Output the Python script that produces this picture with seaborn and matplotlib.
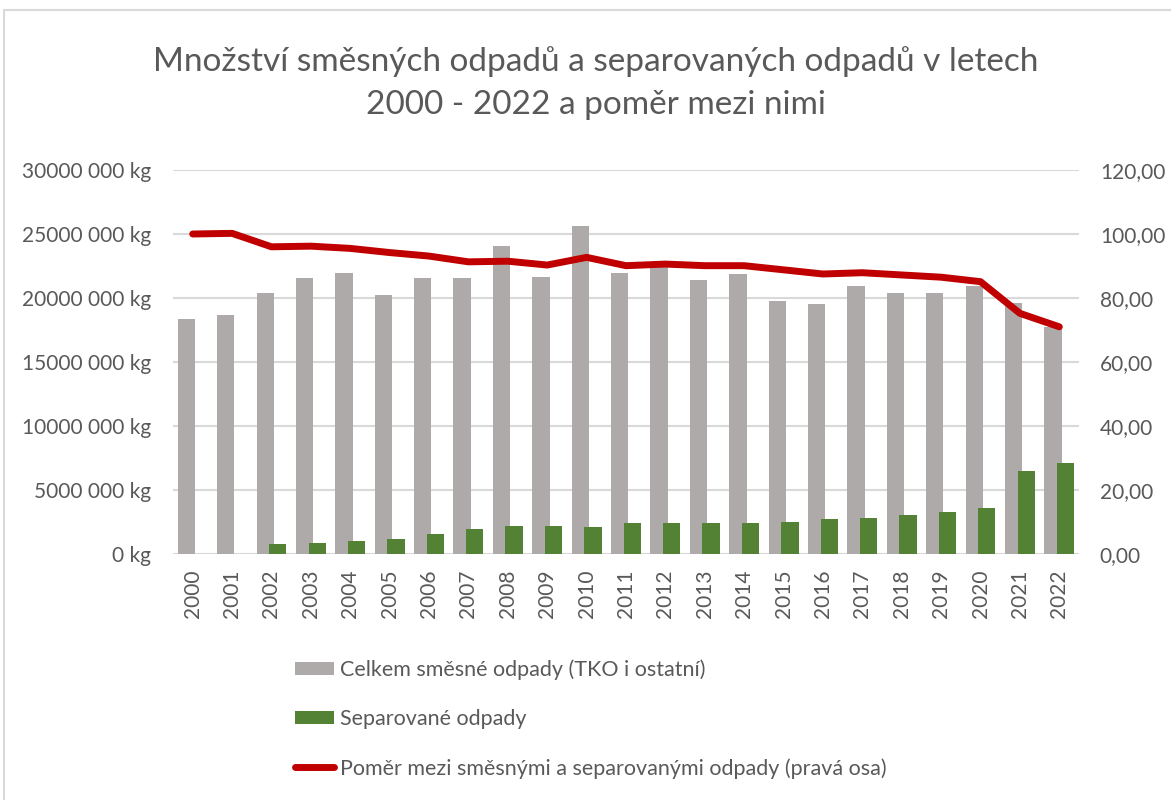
import numpy as np
import pandas as pd
import seaborn as sns
import matplotlib.pyplot as plt
from matplotlib.patches import Patch, Rectangle
from matplotlib.lines import Line2D
from matplotlib.ticker import FuncFormatter, MultipleLocator

# data
years = [str(y) for y in range(2000, 2023)]
smesne = [18.34, 18.67, 20.42, 21.54, 21.98, 20.21, 21.54, 21.54, 24.09, 21.66, 25.65, 21.98,
          22.6, 21.43, 21.88, 19.77, 19.56, 20.96, 20.42, 20.42, 20.96, 19.63, 17.7]
separovane = [0, 0, 0.76, 0.83, 0.99, 1.20, 1.54, 1.95, 2.19, 2.19, 2.08, 2.40,
              2.40, 2.40, 2.40, 2.53, 2.73, 2.84, 3.07, 3.28, 3.62, 6.48, 7.13]
pomer = [100.0, 100.2, 96.0, 96.2, 95.5, 94.2, 93.1, 91.3, 91.5, 90.3, 92.7, 90.1,
         90.6, 90.1, 90.1, 88.8, 87.5, 87.9, 87.2, 86.5, 85.1, 75.2, 71.0]

lab_smes = "Celkem směsné odpady (TKO i ostatní)"
lab_sep = "Separované odpady"
lab_pomer = "Poměr mezi směsnými a separovanými odpady (pravá osa)"

GRAY = "#AEAAAA"
GREEN = "#548235"
RED = "#C00000"
TXT = "#595959"

sns.set_theme(style="white")
plt.rcParams['font.family'] = ['Lato', 'DejaVu Sans']

df = pd.DataFrame({
    "rok": years * 2,
    "kg": [v * 1e6 for v in smesne] + [v * 1e6 for v in separovane],
    "serie": [lab_smes] * len(years) + [lab_sep] * len(years),
})

fig = plt.figure(figsize=(11.71, 8), dpi=100)
ax = fig.add_axes([173 / 1171, 1 - 554 / 800, 906 / 1171, 384 / 800])

sns.barplot(data=df, x="rok", y="kg", hue="serie", palette=[GRAY, GREEN],
            width=0.64, gap=0, dodge=True, ax=ax, legend=False, saturation=1)
# bars overlap slightly, like the original
for p in ax.patches:
    c = p.get_x() + p.get_width() / 2
    p.set_width(0.44)
    p.set_x(c - 0.22)
    p.set_edgecolor("none")

ax.set_xlim(-0.5, len(years) - 0.5)
ax.set_ylim(0, 30e6)
ax.yaxis.set_major_locator(MultipleLocator(5e6))
ax.yaxis.set_major_formatter(FuncFormatter(
    lambda v, _: "0 kg" if v == 0 else f"{int(v // 1000000 * 1000)} 000 kg"))
ax.grid(axis="y", color="#D9D9D9", linewidth=1.5)
ax.set_axisbelow(True)
ax.set_xlabel("")
ax.set_ylabel("")
for s in ax.spines.values():
    s.set_visible(False)
ax.tick_params(axis="y", length=0, pad=16, labelsize=15, labelcolor=TXT)
ax.tick_params(axis="x", length=0, pad=11, labelsize=15, labelcolor=TXT, rotation=90)

ax2 = ax.twinx()
sns.lineplot(x=np.arange(len(years)), y=pomer, color=RED, linewidth=5,
             solid_capstyle="round", solid_joinstyle="round", ax=ax2)
ax2.set_ylim(0, 120)
ax2.yaxis.set_major_locator(MultipleLocator(20))
ax2.yaxis.set_major_formatter(FuncFormatter(lambda v, _: f"{v:.2f}".replace(".", ",")))
for s in ax2.spines.values():
    s.set_visible(False)
ax2.tick_params(axis="y", length=0, pad=15, labelsize=15, labelcolor=TXT)
ax2.grid(False)

fig.suptitle("Množství směsných odpadů a separovaných odpadů v letech\n2000 - 2022 a poměr mezi nimi",
             x=596 / 1171, y=1 - 46 / 800, fontsize=24, color=TXT, linespacing=1.55, va="top")

handles = [Patch(facecolor=GRAY, edgecolor="none"),
           Patch(facecolor=GREEN, edgecolor="none"),
           Line2D([], [], color=RED, linewidth=5, solid_capstyle="round")]
leg = fig.legend(handles, [lab_smes, lab_sep, lab_pomer], loc="upper left",
                 bbox_to_anchor=(276 / 1171, 1 - 640 / 800), frameon=False,
                 fontsize=15.5, labelspacing=1.35, handlelength=1.8, handleheight=0.6,
                 handletextpad=0.25)
for t in leg.get_texts():
    t.set_color(TXT)

fig.patches.append(Rectangle((4 / 1171, -0.1), 1.2, 1 - 10 / 800 + 0.1,
                             transform=fig.transFigure, fill=False,
                             edgecolor="#D9D9D9", linewidth=1.5))

fig.savefig("out.png", dpi=100)
